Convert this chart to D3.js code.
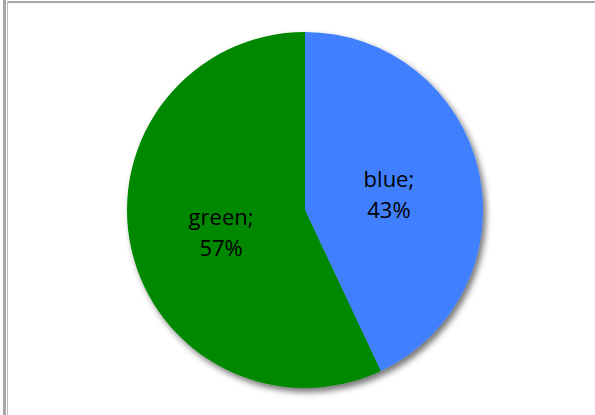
<!DOCTYPE html>
<html lang="en">
    <head>
        <meta charset="utf-8">
        <title>Pie</title>
        <script type="text/javascript" src="https://cdnjs.cloudflare.com/ajax/libs/d3/7.8.5/d3.min.js"></script>
        <style>
            body { margin: 0; background: #fff; }
            svg { display: block; }
        </style>
    </head>
    <body>
        <div id="plot"></div>
        <script type="text/javascript">
            // chart data
            var labels = ["blue", "green"];
            var values = [43, 57];
            var colors = ["#4080ff", "#008800"];

            var width = 595;
            var height = 415;
            var cx = 305, cy = 210, radius = 178;

            var svg = d3.select("#plot")
                .append("svg")
                .attr("width", width)
                .attr("height", height);

            // frame lines at the top and left edge
            svg.append("rect").attr("x", 3).attr("y", 0).attr("width", 3).attr("height", height).attr("fill", "#a6a6a6");
            svg.append("rect").attr("x", 7).attr("y", 1).attr("width", width - 7).attr("height", 2).attr("fill", "#a6a6a6");
            svg.append("rect").attr("x", 7).attr("y", 1).attr("width", 1).attr("height", height).attr("fill", "#bdbdbd");

            // soft shadow under the pie
            var defs = svg.append("defs");
            defs.append("filter")
                .attr("id", "shadow")
                .attr("x", "-20%").attr("y", "-20%")
                .attr("width", "140%").attr("height", "140%")
                .append("feDropShadow")
                .attr("dx", 3)
                .attr("dy", 4)
                .attr("stdDeviation", 3)
                .attr("flood-color", "#000")
                .attr("flood-opacity", 0.55);

            var pie = d3.pie().sort(null).value(function(d){ return d; });
            var arcs = pie(values);

            var arc = d3.arc().innerRadius(0).outerRadius(radius);
            var labelArc = d3.arc().innerRadius(0).outerRadius(172);

            var g = svg.append("g")
                .attr("transform", "translate(" + cx + "," + cy + ")");

            g.append("g")
                .attr("filter", "url(#shadow)")
                .selectAll("path")
                .data(arcs)
                .enter()
                .append("path")
                .attr("d", arc)
                .attr("fill", function(d, i){ return colors[i]; });

            var text = g.selectAll("text")
                .data(arcs)
                .enter()
                .append("text")
                .attr("transform", function(d){ return "translate(" + labelArc.centroid(d) + ")"; })
                .attr("text-anchor", "middle")
                .attr("font-family", "'Open Sans', sans-serif")
                .attr("font-size", 22)
                .attr("fill", "#000");

            text.append("tspan")
                .attr("x", 0)
                .attr("y", -4)
                .text(function(d, i){ return labels[i] + ";"; });

            text.append("tspan")
                .attr("x", 0)
                .attr("y", 27)
                .text(function(d, i){ return values[i] + "%"; });
        </script>
    </body>
</html>
